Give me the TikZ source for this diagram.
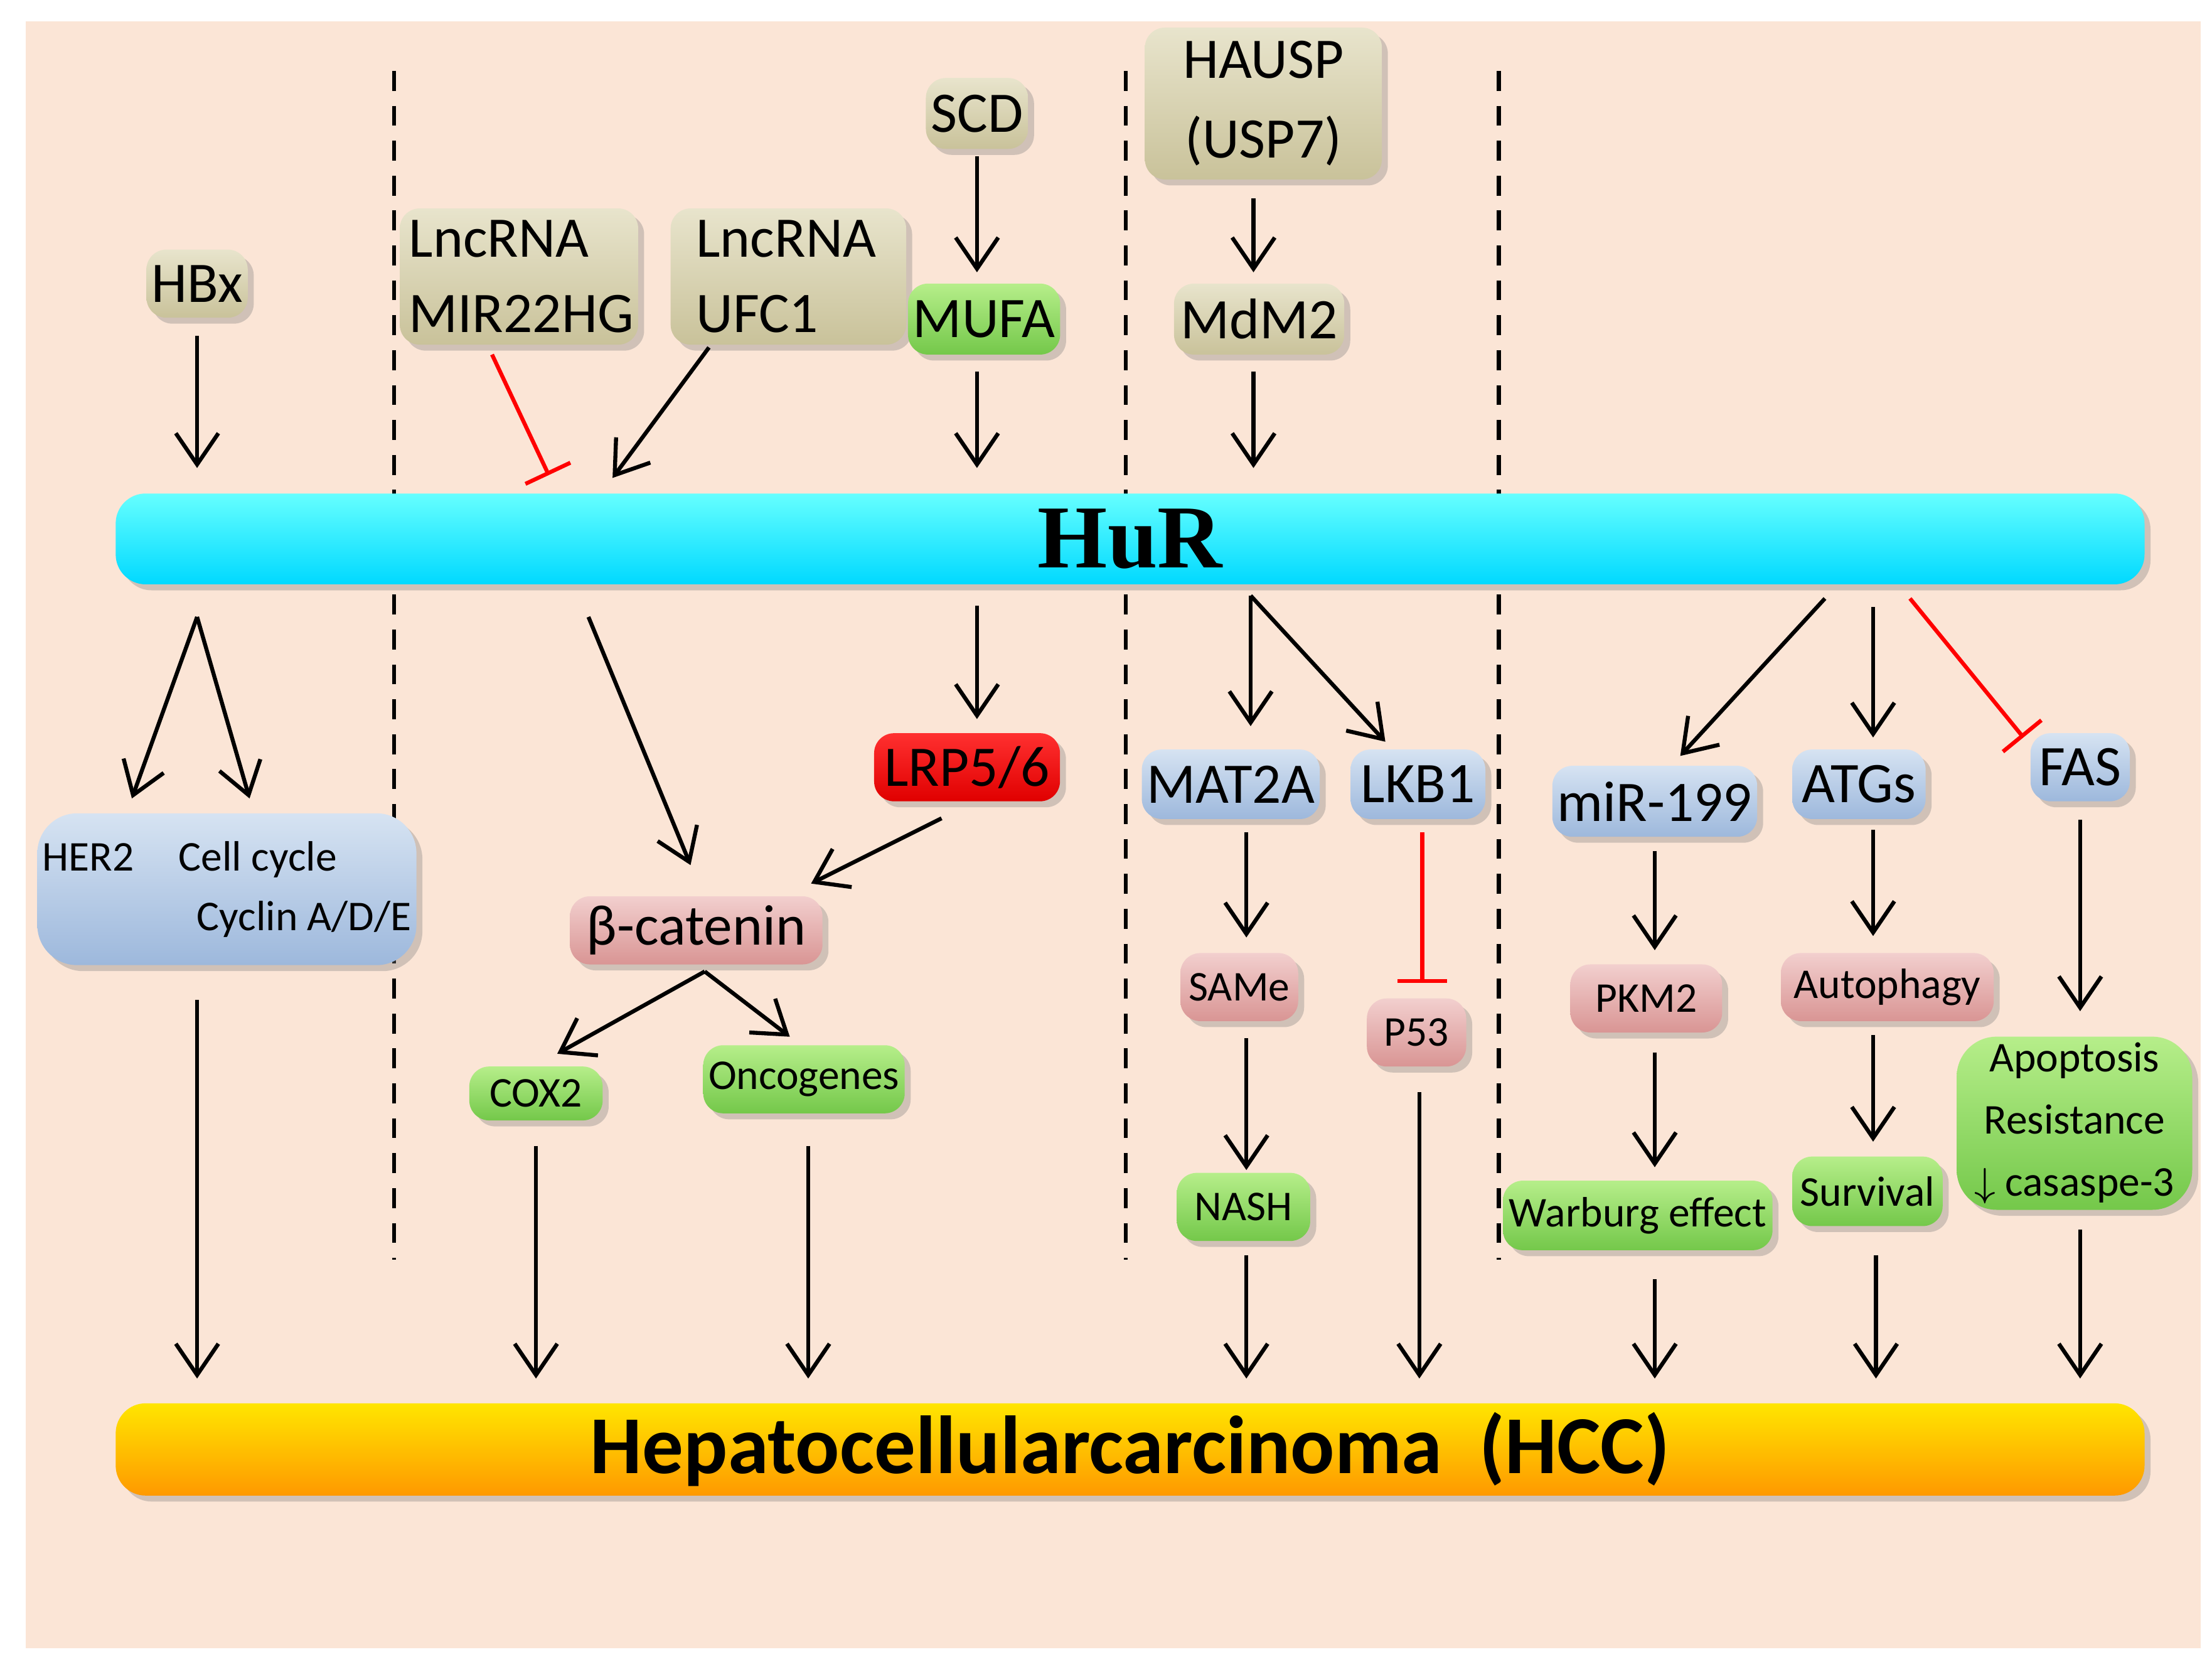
\documentclass[tikz,border=0pt]{standalone}
\usepackage{fontspec}
\setmainfont{Carlito}
\newfontfamily\serifb{Liberation Serif}
\usetikzlibrary{arrows.meta,shadows}
\definecolor{peach}{HTML}{FBE5D6}
\definecolor{tanT}{HTML}{E8E4CC}\definecolor{tanB}{HTML}{C9C29A}
\definecolor{grT}{HTML}{B6EE8A}\definecolor{grB}{HTML}{74C84A}
\definecolor{blT}{HTML}{D6E3F2}\definecolor{blB}{HTML}{9DB8DC}
\definecolor{pkT}{HTML}{F2CFCE}\definecolor{pkB}{HTML}{D99594}
\definecolor{rdT}{HTML}{FF3030}\definecolor{rdB}{HTML}{E00000}
\tikzset{
 bx/.style={rounded corners=4pt,inner sep=1pt,outer sep=0pt,align=center,drop shadow={shadow xshift=1.2pt,shadow yshift=-1.2pt,opacity=.35}},
 tan/.style={bx,top color=tanT,bottom color=tanB},
 grn/.style={bx,top color=grT,bottom color=grB},
 blu/.style={bx,top color=blT,bottom color=blB},
 pnk/.style={bx,top color=pkT,bottom color=pkB},
 arr/.style={-{Straight Barb[length=2.2mm,width=3mm]},line width=0.8pt},
 inh/.style={-{Bar[width=3.5mm]},line width=0.8pt,red},
 dsh/.style={dashed,line width=0.8pt,dash pattern=on 4pt off 3pt},
 big/.style={font=\fontsize{11.5}{11.5}\selectfont},
 sml/.style={font=\fontsize{8.5}{8.5}\selectfont},
}
\begin{document}
\begin{tikzpicture}[x=0.01cm,y=-0.01cm]
\useasboundingbox (0,0) rectangle (1560,1168);
\fill[white] (0,0) rectangle (1560,1168);
\fill[peach] (18,15) rectangle (1552,1162);
\draw[dsh] (278,50)--(278,888);
\draw[dsh] (794,50)--(794,888);
\draw[dsh] (1057,50)--(1057,888);
% bars
\node[bx,top color=cyan!60!white,bottom color=cyan!85!blue,minimum width=14.3cm,minimum height=0.64cm,rounded corners=6pt] (hur) at (797,380) {\serifb\bfseries\fontsize{18}{18}\selectfont HuR};
\node[bx,top color=yellow!80!orange,bottom color=orange!80!yellow,minimum width=14.3cm,minimum height=0.65cm,rounded corners=6pt] (hcc) at (797,1022) {\bfseries\fontsize{16.5}{16.5}\selectfont Hepatocellularcarcinoma\ \ (HCC)};
% top row
\node[tan,big,minimum width=0.7cm,minimum height=0.48cm] (hbx) at (139,200) {HBx};
\node[tan,minimum width=1.68cm,minimum height=0.96cm,text width=1.55cm,align=left,font=\fontsize{11.5}{15}\selectfont] (mir) at (366,195) {LncRNA\\MIR22HG};
\node[tan,minimum width=1.66cm,minimum height=0.96cm,text width=1.3cm,align=left,font=\fontsize{11.5}{15}\selectfont] (ufc) at (556,195) {LncRNA\\UFC1};
\node[tan,big,minimum width=0.7cm,minimum height=0.5cm] (scd) at (689,80) {SCD};
\node[grn,big,minimum width=1.07cm,minimum height=0.5cm] (mufa) at (694,225) {MUFA};
\node[tan,big,minimum width=1.67cm,minimum height=1.07cm,font=\fontsize{11.5}{16}\selectfont] (hausp) at (891,73) {HAUSP\\(USP7)};
\node[tan,big,minimum width=1.2cm,minimum height=0.5cm] (mdm) at (888,225) {MdM2};
% lower
\node[blu,minimum width=2.26cm,minimum height=1.07cm,align=left,font=\fontsize{8.5}{12}\selectfont,rounded corners=8pt] (her) at (160,627) {HER2\hspace{9pt}Cell cycle\\\hspace*{31pt}Cyclin A/D/E};
\node[pnk,big,minimum width=1.78cm,minimum height=0.48cm] (bcat) at (491,656) {β-catenin};
\node[bx,big,top color=rdT,bottom color=rdB,minimum width=1.31cm,minimum height=0.48cm] (lrp) at (682,541) {LRP5/6};
\node[grn,sml,minimum width=0.94cm,minimum height=0.38cm] (cox) at (378,771) {COX2};
\node[grn,sml,minimum width=1.42cm,minimum height=0.48cm] (onc) at (567,761) {Oncogenes};
\node[blu,big,minimum width=1.2cm,minimum height=0.49cm] (mat) at (868,553) {MAT2A};
\node[blu,big,minimum width=0.95cm,minimum height=0.49cm] (lkb) at (1000,553) {LKB1};
\node[pnk,sml,minimum width=0.83cm,minimum height=0.48cm] (same) at (874,696) {SAMe};
\node[pnk,sml,minimum width=0.7cm,minimum height=0.48cm] (p53) at (999,728) {P53};
\node[grn,sml,minimum width=0.94cm,minimum height=0.48cm] (nash) at (877,851) {NASH};
\node[blu,big,minimum width=1.41cm,minimum height=0.5cm] (mir199) at (1167,565) {miR-199};
\node[blu,big,minimum width=0.94cm,minimum height=0.49cm] (atg) at (1311,553) {ATGs};
\node[blu,big,minimum width=0.7cm,minimum height=0.48cm] (fas) at (1467,541) {FAS};
\node[pnk,sml,minimum width=1.07cm,minimum height=0.48cm] (pkm) at (1161,704) {PKM2};
\node[pnk,sml,minimum width=1.5cm,minimum height=0.48cm] (aut) at (1331,696) {Autophagy};
\node[grn,sml,minimum width=1.9cm,minimum height=0.49cm] (war) at (1155,857) {Warburg effect};
\node[grn,sml,minimum width=1.06cm,minimum height=0.49cm] (sur) at (1317,840) {Survival};
\node[grn,minimum width=1.66cm,minimum height=1.22cm,font=\fontsize{8.5}{12.5}\selectfont,rounded corners=8pt] (apo) at (1463,792) {Apoptosis\\Resistance\\$\downarrow$ casaspe-3};
% arrows top
\draw[arr] (139,237)--(139,330);
\draw[inh] (347,250)--(387,335);
\draw[arr] (500,245)--(432,337);
\draw[arr] (689,110)--(689,192);
\draw[arr] (689,262)--(689,330);
\draw[arr] (884,140)--(884,192);
\draw[arr] (884,262)--(884,330);
% from HuR
\draw[arr] (139,435)--(93,563);
\draw[arr] (139,435)--(176,563);
\draw[arr] (415,435)--(487,610);
\draw[arr] (689,427)--(689,507);
\draw[arr] (664,577)--(572,623);
\draw[arr] (497,685)--(393,743);
\draw[arr] (497,685)--(557,731);
\draw[arr] (882,420)--(882,512);
\draw[arr] (882,420)--(977,523);
\draw[arr] (1287,422)--(1185,533);
\draw[arr] (1321,428)--(1321,520);
\draw[inh] (1347,422)--(1427,520);
\draw[arr] (879,587)--(879,661);
\draw[inh] (1003,587)--(1003,693);
\draw[arr] (879,732)--(879,825);
\draw[arr] (1167,600)--(1167,670);
\draw[arr] (1321,585)--(1321,660);
\draw[arr] (1467,578)--(1467,713);
\draw[arr] (1167,742)--(1167,823);
\draw[arr] (1321,730)--(1321,805);
% to HCC
\foreach \x/\y in {139/705,378/808,570/808,879/885,1001/770,1167/902,1323/885,1467/867}
  \draw[arr] (\x,\y)--(\x,972);
\end{tikzpicture}
\end{document}
